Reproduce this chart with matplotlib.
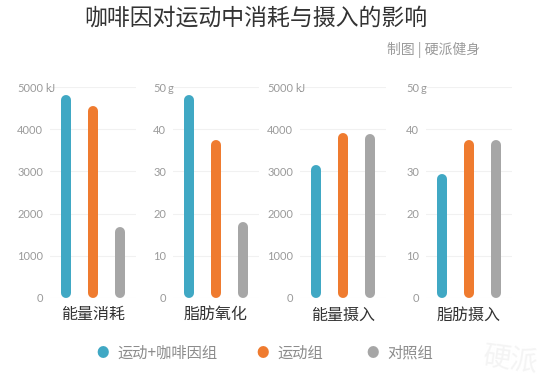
#!/usr/bin/env python3
import matplotlib
import matplotlib.pyplot as plt

matplotlib.use('Agg')

# data
titles = ["能量消耗", "脂肪氧化", "能量摄入", "脂肪摄入"]
groups = ["运动+咖啡因组", "运动组", "对照组"]
energy_burn = [4800, 4550, 1680]
fat_ox = [48, 37.5, 18]
energy_in = [3150, 3900, 3880]
fat_in = [29.5, 37.5, 37.5]
ymax = [5000, 50, 5000, 50]
units = ["kJ", "g", "kJ", "g"]

colors = ["#40a8c4", "#ef7b2f", "#a6a6a6"]
cjk = ['Noto Sans CJK SC', 'DejaVu Sans']

W, H = 553, 388
fig = plt.figure(figsize=(W / 100, H / 100), dpi=100)


def px_axes(left, top, width, height):
    return fig.add_axes([left / W, 1 - (top + height) / H, width / W, height / H])


series = [energy_burn, fat_ox, energy_in, fat_in]
lefts = [50, 173, 300, 426]
ax_w, ax_top, ax_h = 86, 87, 211
pad_px = 7

for i, vals in enumerate(series):
    ax = px_axes(lefts[i], ax_top, ax_w, ax_h)
    ax.set_xlim(-0.6, 2.6)
    ax.set_ylim(0, ymax[i])
    step = ymax[i] / 5
    ticks = [step * k for k in range(6)]
    ax.set_yticks(ticks)
    ax.set_yticklabels([f"{t:g}" for t in ticks], fontfamily='Lato',
                       fontsize=8, color='#9a9a9a')
    ax.tick_params(axis='y', length=0, pad=5)
    ax.set_xticks([])
    for s in ax.spines.values():
        s.set_visible(False)
    for t in ticks:
        ax.axhline(t, color='#f1f1f1', lw=0.8, zorder=0)

    # rounded bars: thick lines with round caps kept inside the value
    lw_px = 10
    r = (lw_px / 2) / ax_h * ymax[i]
    for j, v in enumerate(vals):
        ax.plot([j, j], [r, v - r], color=colors[j], lw=lw_px * 0.72,
                solid_capstyle='round', zorder=3)

    # unit after the top tick label
    ax.text(-(pad_px - 2) / ax_w, ymax[i], units[i], transform=ax.get_yaxis_transform(),
            ha='left', va='center_baseline', fontfamily='Lato', fontsize=8,
            color='#9a9a9a')

    ax.text(1, -0.04, titles[i], transform=ax.get_xaxis_transform(), ha='center',
            va='top', family=cjk, fontsize=11.5, color='#333333')

# title and source
fig.text(256 / W, 1 - 18 / H, "咖啡因对运动中消耗与摄入的影响", ha='center', va='center',
         family=cjk, fontsize=16.5, color='#333333')
fig.text(480 / W, 1 - 50 / H, "制图 | 硬派健身", ha='right', va='center',
         family=cjk, fontsize=10, color='#9a9a9a')

# legend
leg_x = [103, 263, 373]
for j, g in enumerate(groups):
    fig.text(leg_x[j] / W, 1 - 353 / H, "●", ha='center', va='center',
             family=cjk, fontsize=9, color=colors[j])
    fig.text((leg_x[j] + 14) / W, 1 - 353 / H, g, ha='left', va='center',
             family=cjk, fontsize=11, color='#8c8c8c')

# faint watermark
fig.text(510 / W, 1 - 360 / H, "硬派", ha='center', va='center', family=cjk,
         fontsize=20, color='#f4f4f4', rotation=-8)

fig.savefig("out.png", dpi=100)
